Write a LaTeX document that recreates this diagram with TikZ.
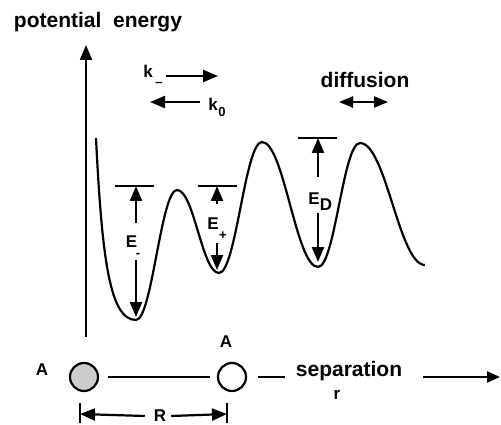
\documentclass[tikz,border=0pt]{standalone}
\usepackage{fontspec}
\setmainfont{Liberation Sans}
\usetikzlibrary{arrows.meta}
\begin{document}
\begin{tikzpicture}[x=1pt,y=-1pt,line width=2.2pt,
  tip/.style={-{Triangle[length=15pt,width=12pt]}},
  dtip/.style={{Triangle[length=14pt,width=11pt]}-{Triangle[length=14pt,width=11pt]}},
  big/.style={inner sep=0pt,font=\fontsize{21}{24}\selectfont\bfseries},
  lab/.style={inner sep=0pt,font=\fontsize{17}{20}\selectfont\bfseries},
  sublab/.style={inner sep=0pt,font=\fontsize{13}{15}\selectfont\bfseries},
  atom/.style={circle,draw,line width=2.2pt,minimum size=28pt,inner sep=0pt},
  bar/.style={line width=2.2pt}]
\useasboundingbox (0,0) rectangle (501,425);

% axis and title
\node[big] (pe) at (98,22) {potential\ \ energy};
\coordinate (ybot) at (86,337);
\coordinate (ytop) at (86,45);
\draw[tip] (ybot) -- (ytop);

% rate labels
\node[lab] (km) at (148,71) {k};
\node[sublab] (kmsub) at (159,84) {--};
\coordinate (kma) at (166,76);
\coordinate (kmb) at (218,76);
\draw[tip] (kma) -- (kmb);
\node[lab] (kz) at (213,104) {k};
\node[sublab] (kzsub) at (222,112) {0};
\coordinate (kza) at (200,102);
\coordinate (kzb) at (150,102);
\draw[tip] (kza) -- (kzb);

% diffusion
\node[big] (diff) at (365,80) {diffusion};
\coordinate (da) at (339,102);
\coordinate (db) at (388,102);
\draw[dtip] (da) -- (db);

% potential curve
\draw (96,138) .. controls (102,260) and (110,320) .. (136,320)
  .. controls (152,320) and (161,190) .. (177,190)
  .. controls (194,190) and (202,273) .. (219,273)
  .. controls (236,273) and (245,142) .. (262,142)
  .. controls (284,142) and (296,267) .. (318,267)
  .. controls (335,267) and (343,143) .. (360,143)
  .. controls (386,143) and (399,265) .. (425,265);

% E-
\coordinate (emL) at (115,186); \coordinate (emR) at (154,186);
\draw[bar] (emL) -- (emR);
\node[lab] (Em) at (131.5,242) {E};
\node[sublab] (Emsub) at (138,255) {-};
\coordinate (emu) at (136,223); \coordinate (emt) at (136,186);
\coordinate (emd) at (136,260); \coordinate (emb) at (136,317);
\draw[tip] (emu) -- (emt);
\draw[tip] (emd) -- (emb);

% E+
\coordinate (epL) at (198,186); \coordinate (epR) at (237,186);
\draw[bar] (epL) -- (epR);
\node[lab] (Ep) at (213,224) {E};
\node[sublab] (Epsub) at (223,236) {+};
\coordinate (epu) at (217,204); \coordinate (ept) at (217,186);
\coordinate (epd) at (217,243); \coordinate (epb) at (217,270);
\draw[tip] (epu) -- (ept);
\draw[tip] (epd) -- (epb);

% ED
\coordinate (edL) at (298,138); \coordinate (edR) at (337,138);
\draw[bar] (edL) -- (edR);
\node[lab] (Ed) at (314,199) {E};
\node[lab] (Edsub) at (326,205) {D};
\coordinate (edu) at (318,177); \coordinate (edt) at (318,138);
\coordinate (edd) at (318,213); \coordinate (edb) at (318,262);
\draw[tip] (edu) -- (edt);
\draw[tip] (edd) -- (edb);

% bottom: atoms and separation
\node[lab] (A1l) at (42,370) {A};
\node[atom,fill={rgb,255:red,205;green,205;blue,205}] (A1) at (84,377) {};
\node[atom,fill=white] (A2) at (232,377) {};
\node[lab] (A2l) at (226,342) {A};
\draw[shorten <=9pt,shorten >=7pt] (A1) -- (A2);
\node[big] (sep) at (349,371) {separation};
\node[lab] (r) at (337,395) {r};
\draw[shorten <=11pt,shorten >=10pt] (A2) -- (A2 -| sep.west);
\coordinate (rend) at (500,377);
\draw[-{Triangle[length=13pt,width=11pt]},shorten <=20pt] (A2 -| sep.east) -- (rend);

% R dimension
\coordinate (t1a) at (80,403); \coordinate (t1b) at (80,423);
\coordinate (t2a) at (227,403); \coordinate (t2b) at (227,423);
\draw (t1a) -- (t1b);
\draw (t2a) -- (t2b);
\node[lab] (R) at (160,416) {R};
\coordinate (rl) at (80,414); \coordinate (rr) at (227,414);
\draw[tip] (R.west) ++(-8,0) coordinate (rla) -- (rl);
\draw[tip] (R.east) ++(4,0) coordinate (rra) -- (rr);
\end{tikzpicture}
\end{document}
